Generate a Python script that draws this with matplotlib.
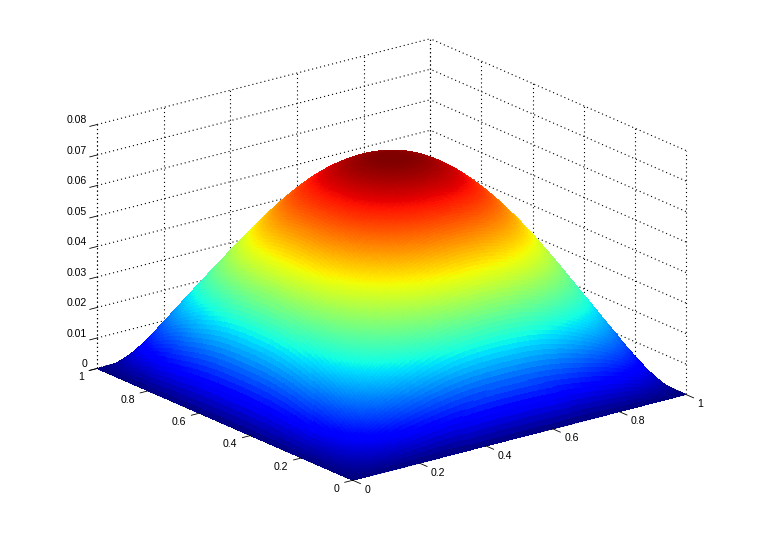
import numpy as np
import matplotlib
matplotlib.use('Agg')
import matplotlib.pyplot as plt
from mpl_toolkits.mplot3d import proj3d

plt.rcParams['font.family'] = ['Liberation Sans', 'DejaVu Sans']

# surface height read on a 0.05 grid, one quarter of the square (x, y from 0 to 0.5)
# the surface is symmetric so the rest is mirrored below
quarter = np.array([
    [0, 0, 0, 0, 0, 0, 0, 0, 0, 0, 0],
    [0, 38.8, 71.5, 95.2, 111.8, 124.6, 135.5, 144.2, 149.7, 152.1, 152.6],
    [0, 71.5, 132.0, 177.3, 209.7, 234.9, 256.3, 273.0, 283.8, 288.8, 290.0],
    [0, 95.2, 177.3, 240.4, 287.2, 324.2, 354.9, 378.9, 394.4, 402.0, 404.1],
    [0, 111.8, 209.7, 287.2, 346.8, 394.0, 432.8, 462.9, 482.7, 493.0, 495.9],
    [0, 124.6, 234.9, 324.2, 394.0, 450.0, 495.6, 530.9, 554.6, 567.0, 570.8],
    [0, 135.5, 256.3, 354.9, 432.8, 495.6, 546.9, 586.7, 613.3, 627.6, 632.0],
    [0, 144.2, 273.0, 378.9, 462.9, 530.9, 586.7, 629.7, 658.9, 674.5, 679.3],
    [0, 149.7, 283.8, 394.4, 482.7, 554.6, 613.3, 658.9, 689.6, 706.3, 711.4],
    [0, 152.1, 288.8, 402.0, 493.0, 567.0, 627.6, 674.5, 706.3, 723.7, 729.1],
    [0, 152.6, 290.0, 404.1, 495.9, 570.8, 632.0, 679.3, 711.4, 729.1, 734.5],
]) * 1e-4

x_ticks = [0, 0.2, 0.4, 0.6, 0.8, 1]
y_ticks = [0, 0.2, 0.4, 0.6, 0.8, 1]
z_ticks = [0, 0.01, 0.02, 0.03, 0.04, 0.05, 0.06, 0.07, 0.08]
x_labels = ['0', '0.2', '0.4', '0.6', '0.8', '1']
y_labels = ['0', '0.2', '0.4', '0.6', '0.8', '1']
z_labels = ['0', '0.01', '0.02', '0.03', '0.04', '0.05', '0.06', '0.07', '0.08']


def refine(a, sub):
    # split each facet along axis 0 with a smooth hermite curve, like shading interp
    d = np.gradient(a, axis=0)
    t = np.arange(sub) / sub
    t = t[:, None]
    h00 = 2 * t**3 - 3 * t**2 + 1
    h10 = t**3 - 2 * t**2 + t
    h01 = -2 * t**3 + 3 * t**2
    h11 = t**3 - t**2
    rows = []
    for i in range(a.shape[0] - 1):
        rows.append(h00 * a[i] + h10 * d[i] + h01 * a[i + 1] + h11 * d[i + 1])
    rows.append(a[-1:])
    return np.vstack(rows)


half = np.hstack([quarter, quarter[:, -2::-1]])
z = np.vstack([half, half[-2::-1]])

sub = 9
zf = refine(refine(z, sub).T, sub).T
zf = np.clip(zf, 0, None)
fine = np.linspace(0, 1, zf.shape[0])
X, Y = np.meshgrid(fine, fine)
zc = (zf[:-1, :-1] + zf[1:, :-1] + zf[:-1, 1:] + zf[1:, 1:]) / 4
colors = plt.cm.jet(zc / zc.max())

W, H = 759, 539
fig = plt.figure(figsize=(W / 100, H / 100), dpi=100, facecolor='white')
S = 629
ax = fig.add_axes([68.5 / W, -43.5 / H, S / W, S / H], projection='3d')
ax.set_proj_type('ortho')
ax.view_init(elev=19.6, azim=-127.5)
ax.set_box_aspect((420, 420, 259))
ax.set_xlim(0, 1, view_margin=0)
ax.set_ylim(0, 1, view_margin=0)
ax.set_zlim(0, 0.08, view_margin=0)
ax.set_axis_off()
ax.computed_zorder = False

dots = dict(color='black', lw=0.8, ls=(0, (1, 2.7)), zorder=1)
for v in x_ticks:
    ax.plot([v, v], [1, 1], [0, 0.08], **dots)
    ax.plot([v, v], [0, 1], [0, 0], **dots)
for v in y_ticks:
    ax.plot([1, 1], [v, v], [0, 0.08], **dots)
    ax.plot([0, 1], [v, v], [0, 0], **dots)
for v in z_ticks:
    ax.plot([0, 1], [1, 1], [v, v], **dots)
    ax.plot([1, 1], [0, 1], [v, v], **dots)
ax.plot([0, 0], [1, 1], [0, 0.08], **dots)

ax.plot_surface(X, Y, zf, facecolors=colors, rstride=1, cstride=1, shade=False,
                linewidth=0, antialiased=False, zorder=2)


def label(x, y, z_pos, s, ha):
    # place the tick label in the axes plane at the projected spot
    px, py, _ = proj3d.proj_transform(x, y, z_pos, ax.get_proj())
    ax.text2D(px, py, s, transform=ax.transData, ha=ha, va='center',
              fontsize=7.6, color='black', zorder=4)


# tick marks and labels
tick = dict(color='black', lw=0.6, zorder=3)
for v, s in zip(x_ticks, x_labels):
    ax.plot([v, v], [0, -0.03], [0, 0], **tick)
    label(v, -0.045, -0.0015, s, 'left')
for v, s in zip(y_ticks, y_labels):
    ax.plot([0, -0.024], [v, v], [0, 0], **tick)
    label(-0.04, v, -0.0018, s, 'right')
for v, s in zip(z_ticks, z_labels):
    ax.plot([0, -0.022], [1, 1], [v, v], **tick)
    label(-0.03, 1, v + 0.0023, s, 'right')

fig.savefig('out.png', dpi=100, facecolor='white')
